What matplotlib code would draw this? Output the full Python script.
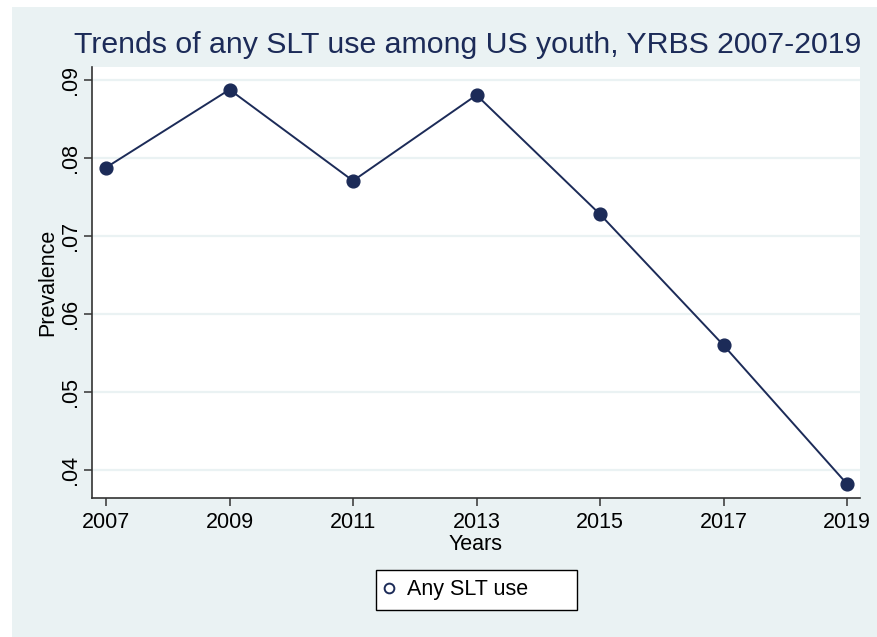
import matplotlib
matplotlib.use("Agg")
import matplotlib.pyplot as plt
from matplotlib.patches import Rectangle

plt.rcParams['font.family'] = ['Liberation Sans', 'DejaVu Sans']

years = [2007, 2009, 2011, 2013, 2015, 2017, 2019]
prevalence = [0.0788, 0.0888, 0.0771, 0.0881, 0.0728, 0.0560, 0.0382]
y_ticks = [0.04, 0.05, 0.06, 0.07, 0.08, 0.09]
y_tick_labels = ['.04', '.05', '.06', '.07', '.08', '.09']

W, H = 878, 637
navy = '#1c2b58'
bg = '#eaf2f3'

fig = plt.figure(figsize=(W / 100, H / 100), dpi=100)
fig.patch.set_facecolor('white')
fig.patches.append(Rectangle((12 / W, 0), 1 - 12 / W, 1 - 7 / H,
                             transform=fig.transFigure, facecolor=bg,
                             edgecolor='none', zorder=-10))

ax = fig.add_axes([92 / W, 1 - 498 / H, 768 / W, 431 / H])
ax.set_zorder(1)
ax.set_facecolor('white')
ax.plot(years, prevalence, color=navy, lw=1.4, marker='o', ms=9.2,
        mfc=navy, mec=navy, zorder=3)

ax.set_xlim(2006.773, 2019.21)
ax.set_ylim(0.0364, 0.0917)
ax.set_xticks(years)
ax.set_xticklabels([str(y) for y in years])
ax.set_yticks(y_ticks)
ax.set_yticklabels(y_tick_labels, rotation=90, va='center')
ax.grid(axis='y', color=bg, lw=1.6, zorder=0)
ax.set_axisbelow(True)

for s in ['top', 'right']:
    ax.spines[s].set_visible(False)
for s in ['left', 'bottom']:
    ax.spines[s].set_color('#333333')
    ax.spines[s].set_linewidth(1.2)
ax.tick_params(axis='both', direction='out', length=6, width=1.1,
               color='#333333', labelsize=15.5, labelcolor='black', pad=4)
ax.tick_params(axis='y', pad=2)

ax.set_xlabel('Years', fontsize=15.5, labelpad=1)
ax.set_ylabel('Prevalence', fontsize=15.5, labelpad=1)

fig.text(468 / W, 1 - 45 / H,
         'Trends of any SLT use among US youth, YRBS 2007-2019',
         ha='center', va='center', fontsize=21.8, color=navy)

leg_handle, = ax.plot([], [], ls='none', marker='o', ms=7, mfc='white',
                      mec=navy, mew=1.4)
leg = fig.legend([leg_handle], ['Any SLT use'],
                 loc='lower left',
                 bbox_to_anchor=(376 / W, 1 - 610 / H, 201 / W, 40 / H),
                 mode='expand', frameon=True, fancybox=False,
                 edgecolor='black', facecolor='white', framealpha=1,
                 fontsize=15.5, handlelength=0.3, handletextpad=0.7,
                 borderpad=0.45, borderaxespad=0)
leg.get_frame().set_linewidth(1.0)

fig.savefig('out.png', dpi=100, facecolor=fig.get_facecolor())
